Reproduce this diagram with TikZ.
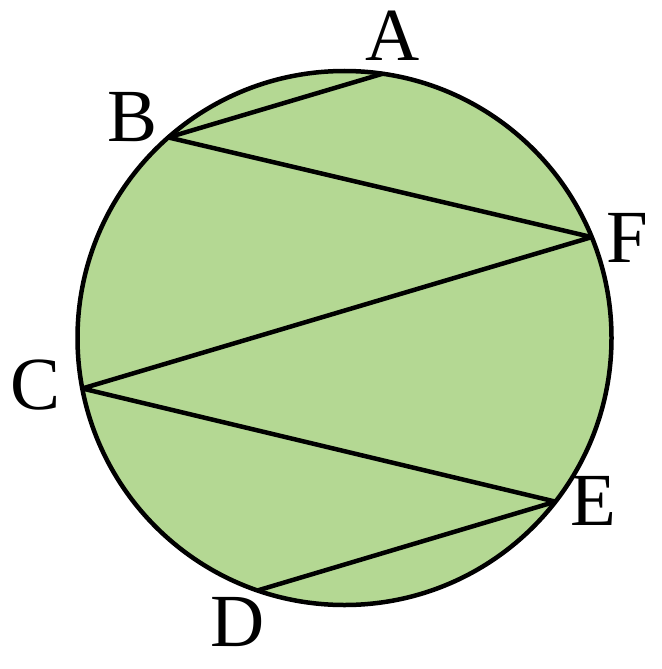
\documentclass[tikz,border=0pt]{standalone}
\usepackage{fontspec}
\setmainfont{Liberation Serif}
\usetikzlibrary{calc}
\definecolor{leaf}{RGB}{180,216,147}

\begin{document}
\begin{tikzpicture}[x=1pt,y=-1pt,line width=4.5pt,line join=round,
                    lbl/.style={inner sep=0pt,font=\fontsize{75}{75}\selectfont}]

  \useasboundingbox (0,0) rectangle (661,669);
  \coordinate (O) at (344.5,338);
  \draw[fill=leaf] (O) circle[radius=267];

  % points on the rim
  \coordinate (A) at ($(O)+(-81.8:267)$);
  \coordinate (B) at ($(O)+(-131.3:267)$);
  \coordinate (F) at ($(O)+(-22.2:267)$);
  \coordinate (C) at ($(O)+(169.1:267)$);
  \coordinate (E) at ($(O)+(37.8:267)$);
  \coordinate (D) at ($(O)+(109:267)$);

  \draw (A) -- (B) -- (F) -- (C) -- (E) -- (D);

  \node[lbl] (lA) at (393,36)  {A};
  \node[lbl] (lB) at (133,117) {B};
  \node[lbl] (lF) at (627,238) {F};
  \node[lbl] (lC) at (36,385)  {C};
  \node[lbl] (lE) at (593,501) {E};
  \node[lbl] (lD) at (238,622) {D};
\end{tikzpicture}
\end{document}
